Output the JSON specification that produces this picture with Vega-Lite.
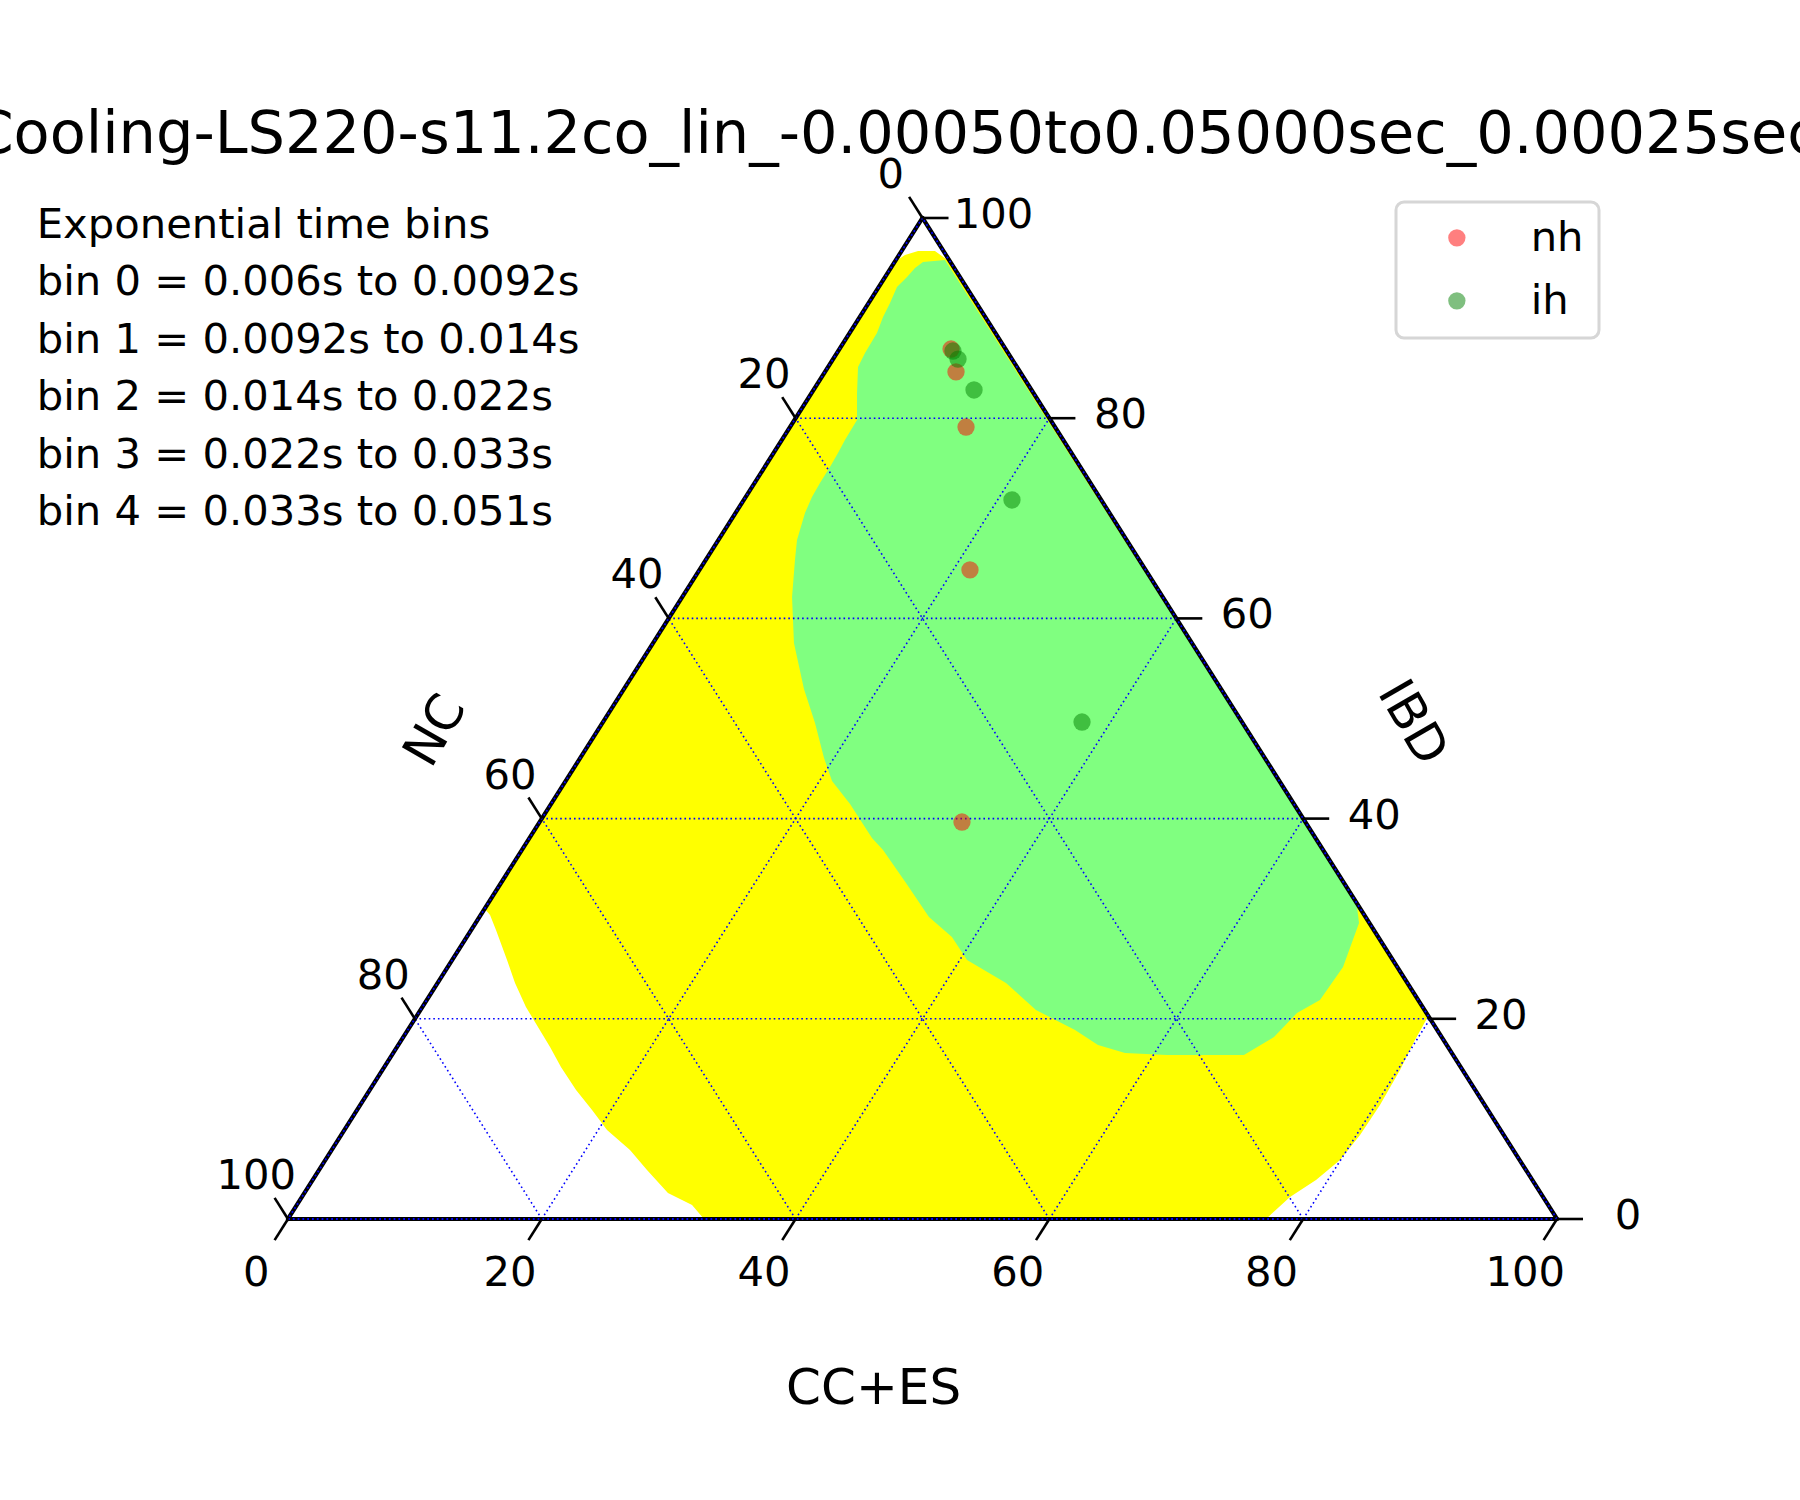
{
  "$schema": "https://vega.github.io/schema/vega-lite/v6.json",
  "width": 1800,
  "height": 1500,
  "autosize": "none",
  "padding": 0,
  "background": "white",
  "title": {"text": "Cooling-LS220-s11.2co_lin_-0.00050to0.05000sec_0.00025sec", "font": "DejaVu Sans", "fontSize": 59, "fontWeight": "normal", "color": "#000000", "anchor": "middle", "frame": "group", "baseline": "alphabetic", "offset": -212, "dx": -4},
  "config": {
    "view": {"stroke": null},
    "text": {"font": "DejaVu Sans", "color": "#000000"},
    "legend": {"strokeWidth": 3}
  },
  "datasets": {
    "yellow": [
      {"i": 0, "x": 47.8, "y": 95.6}, {"i": 1, "x": 48.62, "y": 96.3}, {"i": 2, "x": 49.65, "y": 96.7}, {"i": 3, "x": 50.98, "y": 96.7},
      {"i": 4, "x": 52.2, "y": 95.6}, {"i": 5, "x": 89.86, "y": 20.28}, {"i": 6, "x": 88.81, "y": 17.88}, {"i": 7, "x": 87.63, "y": 14.89},
      {"i": 8, "x": 86.05, "y": 11.39}, {"i": 9, "x": 84.48, "y": 8.39}, {"i": 10, "x": 82.9, "y": 5.89}, {"i": 11, "x": 81.01, "y": 3.9},
      {"i": 12, "x": 78.96, "y": 2.2}, {"i": 13, "x": 77.07, "y": 0}, {"i": 14, "x": 32.78, "y": 0}, {"i": 15, "x": 31.84, "y": 1.4},
      {"i": 16, "x": 29.94, "y": 2.6}, {"i": 17, "x": 28.29, "y": 4.9}, {"i": 18, "x": 26.95, "y": 6.89}, {"i": 19, "x": 25.14, "y": 8.89},
      {"i": 20, "x": 23.96, "y": 10.89}, {"i": 21, "x": 22.7, "y": 12.89}, {"i": 22, "x": 21.51, "y": 15.18}, {"i": 23, "x": 20.65, "y": 17.18},
      {"i": 24, "x": 19.7, "y": 19.18}, {"i": 25, "x": 18.75, "y": 21.18}, {"i": 26, "x": 17.89, "y": 23.58}, {"i": 27, "x": 17.26, "y": 25.87},
      {"i": 28, "x": 16.39, "y": 28.87}, {"i": 29, "x": 15.92, "y": 30.37}, {"i": 30, "x": 15.5, "y": 31.0}
    ],
    "green": [
      {"i": 0, "x": 49.41, "y": 95.0}, {"i": 1, "x": 50.04, "y": 95.6}, {"i": 2, "x": 51.77, "y": 95.8}, {"i": 3, "x": 84.2, "y": 31.6},
      {"i": 4, "x": 84.4, "y": 29.57}, {"i": 5, "x": 83.14, "y": 25.17}, {"i": 6, "x": 81.32, "y": 21.88}, {"i": 7, "x": 79.51, "y": 20.58},
      {"i": 8, "x": 77.7, "y": 18.18}, {"i": 9, "x": 75.33, "y": 16.38}, {"i": 10, "x": 69.27, "y": 16.38}, {"i": 11, "x": 65.96, "y": 16.58},
      {"i": 12, "x": 63.83, "y": 17.38}, {"i": 13, "x": 62.02, "y": 18.88}, {"i": 14, "x": 58.94, "y": 20.88}, {"i": 15, "x": 56.58, "y": 23.58},
      {"i": 16, "x": 53.51, "y": 25.87}, {"i": 17, "x": 52.32, "y": 28.17}, {"i": 18, "x": 50.51, "y": 30.17}, {"i": 19, "x": 48.7, "y": 33.57},
      {"i": 20, "x": 46.89, "y": 36.86}, {"i": 21, "x": 46.02, "y": 38.06}, {"i": 22, "x": 44.29, "y": 41.46}, {"i": 23, "x": 42.87, "y": 43.76},
      {"i": 24, "x": 42.24, "y": 46.05}, {"i": 25, "x": 41.53, "y": 49.55}, {"i": 26, "x": 40.66, "y": 52.95}, {"i": 27, "x": 39.87, "y": 57.54},
      {"i": 28, "x": 39.72, "y": 62.14}, {"i": 29, "x": 39.95, "y": 65.83}, {"i": 30, "x": 40.11, "y": 67.83}, {"i": 31, "x": 40.74, "y": 70.53},
      {"i": 32, "x": 41.29, "y": 72.13}, {"i": 33, "x": 41.92, "y": 73.53}, {"i": 34, "x": 42.71, "y": 75.12}, {"i": 35, "x": 43.34, "y": 76.52},
      {"i": 36, "x": 43.89, "y": 77.82}, {"i": 37, "x": 44.84, "y": 79.82}, {"i": 38, "x": 44.84, "y": 82.52}, {"i": 39, "x": 44.92, "y": 85.11},
      {"i": 40, "x": 45.47, "y": 86.51}, {"i": 41, "x": 46.41, "y": 88.51}, {"i": 42, "x": 46.89, "y": 90.11}, {"i": 43, "x": 47.44, "y": 91.51},
      {"i": 44, "x": 47.99, "y": 93.11}, {"i": 45, "x": 48.78, "y": 94.11}
    ],
    "grid": [
      {"x": 10, "y": 20, "x2": 90, "y2": 20}, {"x": 20, "y": 40, "x2": 80, "y2": 40}, {"x": 30, "y": 60, "x2": 70, "y2": 60}, {"x": 40, "y": 80, "x2": 60, "y2": 80},
      {"x": 20, "y": 0, "x2": 60, "y2": 80}, {"x": 40, "y": 0, "x2": 70, "y2": 60}, {"x": 60, "y": 0, "x2": 80, "y2": 40}, {"x": 80, "y": 0, "x2": 90, "y2": 20},
      {"x": 80, "y": 0, "x2": 40, "y2": 80}, {"x": 60, "y": 0, "x2": 30, "y2": 60}, {"x": 40, "y": 0, "x2": 20, "y2": 40}, {"x": 20, "y": 0, "x2": 10, "y2": 20}
    ],
    "edges": [
      {"x": 0, "y": 0, "x2": 100, "y2": 0}, {"x": 100, "y": 0, "x2": 50, "y2": 100}, {"x": 50, "y": 100, "x2": 0, "y2": 0}
    ],
    "ticks": [
      {"axis": "CC+ES", "t": "0", "x": 0, "y": 0, "x2": -1.055, "y2": -2.11},
      {"axis": "CC+ES", "t": "20", "x": 20, "y": 0, "x2": 18.945, "y2": -2.11},
      {"axis": "CC+ES", "t": "40", "x": 40, "y": 0, "x2": 38.945, "y2": -2.11},
      {"axis": "CC+ES", "t": "60", "x": 60, "y": 0, "x2": 58.945, "y2": -2.11},
      {"axis": "CC+ES", "t": "80", "x": 80, "y": 0, "x2": 78.945, "y2": -2.11},
      {"axis": "CC+ES", "t": "100", "x": 100, "y": 0, "x2": 98.945, "y2": -2.11},
      {"axis": "NC", "t": "0", "x": 50, "y": 100, "x2": 48.945, "y2": 102.11},
      {"axis": "NC", "t": "20", "x": 40, "y": 80, "x2": 38.945, "y2": 82.11},
      {"axis": "NC", "t": "40", "x": 30, "y": 60, "x2": 28.945, "y2": 62.11},
      {"axis": "NC", "t": "60", "x": 20, "y": 40, "x2": 18.945, "y2": 42.11},
      {"axis": "NC", "t": "80", "x": 10, "y": 20, "x2": 8.945, "y2": 22.11},
      {"axis": "NC", "t": "100", "x": 0, "y": 0, "x2": -1.055, "y2": 2.11},
      {"axis": "IBD", "t": "0", "x": 100, "y": 0, "x2": 102.05, "y2": 0},
      {"axis": "IBD", "t": "20", "x": 90, "y": 20, "x2": 92.05, "y2": 20},
      {"axis": "IBD", "t": "40", "x": 80, "y": 40, "x2": 82.05, "y2": 40},
      {"axis": "IBD", "t": "60", "x": 70, "y": 60, "x2": 72.05, "y2": 60},
      {"axis": "IBD", "t": "80", "x": 60, "y": 80, "x2": 62.05, "y2": 80},
      {"axis": "IBD", "t": "100", "x": 50, "y": 100, "x2": 52.05, "y2": 100}
    ],
    "axistitles": [
      {"t": "CC+ES", "x": 46.15, "y": -17.0},
      {"t": "NC", "x": 11.66, "y": 48.75},
      {"t": "IBD", "x": 88.57, "y": 49.55}
    ],
    "points": [
      {"series": "nh", "x": 52.25, "y": 86.91},
      {"series": "nh", "x": 52.64, "y": 84.62},
      {"series": "nh", "x": 53.43, "y": 79.12},
      {"series": "nh", "x": 53.74, "y": 64.84},
      {"series": "nh", "x": 53.11, "y": 39.66},
      {"series": "ih", "x": 52.4, "y": 86.71},
      {"series": "ih", "x": 52.8, "y": 85.91},
      {"series": "ih", "x": 54.06, "y": 82.82},
      {"series": "ih", "x": 57.05, "y": 71.83},
      {"series": "ih", "x": 62.57, "y": 49.65}
    ],
    "notes": [
      {"t": "Exponential time bins", "x": -19.8, "y": 98.0},
      {"t": "bin 0 = 0.006s to 0.0092s", "x": -19.8, "y": 92.27},
      {"t": "bin 1 = 0.0092s to 0.014s", "x": -19.8, "y": 86.53},
      {"t": "bin 2 = 0.014s to 0.022s", "x": -19.8, "y": 80.8},
      {"t": "bin 3 = 0.022s to 0.033s", "x": -19.8, "y": 75.06},
      {"t": "bin 4 = 0.033s to 0.051s", "x": -19.8, "y": 69.33}
    ]
  },
  "encoding": {
    "x": {"field": "x", "type": "quantitative", "scale": {"domain": [-22.695, 119.149], "nice": false, "zero": false}, "axis": null},
    "y": {"field": "y", "type": "quantitative", "scale": {"domain": [-28.072, 121.778], "nice": false, "zero": false}, "axis": null}
  },
  "layer": [
    {
      "data": {"name": "yellow"},
      "mark": {"type": "line", "fill": "#ffff00", "stroke": null, "strokeWidth": 0, "interpolate": "linear-closed"},
      "encoding": {"order": {"field": "i", "type": "quantitative"}}
    },
    {
      "data": {"name": "green"},
      "mark": {"type": "line", "fill": "#80ff80", "stroke": null, "strokeWidth": 0, "interpolate": "linear-closed"},
      "encoding": {"order": {"field": "i", "type": "quantitative"}}
    },
    {
      "data": {"name": "grid"},
      "mark": {"type": "rule", "color": "#0000ff", "strokeWidth": 1.6, "strokeDash": [1.6, 3]},
      "encoding": {"x2": {"field": "x2"}, "y2": {"field": "y2"}}
    },
    {
      "data": {"name": "edges"},
      "mark": {"type": "rule", "color": "#000000", "strokeWidth": 4.2, "strokeCap": "round"},
      "encoding": {"x2": {"field": "x2"}, "y2": {"field": "y2"}}
    },
    {
      "data": {"name": "edges"},
      "mark": {"type": "rule", "color": "#0000ff", "strokeWidth": 1.8, "strokeDash": [1.8, 3]},
      "encoding": {"x2": {"field": "x2"}, "y2": {"field": "y2"}}
    },
    {
      "data": {"name": "ticks"},
      "mark": {"type": "rule", "color": "#000000", "strokeWidth": 2.6},
      "encoding": {"x2": {"field": "x2"}, "y2": {"field": "y2"}}
    },
    {
      "data": {"name": "ticks"},
      "transform": [{"filter": "datum.axis === 'CC+ES'"}],
      "mark": {"type": "text", "fontSize": 41.7, "align": "center", "baseline": "middle", "dx": -31.7, "dy": 54},
      "encoding": {"text": {"field": "t"}}
    },
    {
      "data": {"name": "ticks"},
      "transform": [{"filter": "datum.axis === 'NC'"}],
      "mark": {"type": "text", "fontSize": 41.7, "align": "center", "baseline": "middle", "dx": -31.7, "dy": -43},
      "encoding": {"text": {"field": "t"}}
    },
    {
      "data": {"name": "ticks"},
      "transform": [{"filter": "datum.axis === 'IBD'"}],
      "mark": {"type": "text", "fontSize": 41.7, "align": "center", "baseline": "middle", "dx": 71, "dy": -3},
      "encoding": {"text": {"field": "t"}}
    },
    {
      "data": {"name": "axistitles"},
      "transform": [{"filter": "datum.t === 'CC+ES'"}],
      "mark": {"type": "text", "fontSize": 50, "align": "center", "baseline": "middle"},
      "encoding": {"text": {"field": "t"}}
    },
    {
      "data": {"name": "axistitles"},
      "transform": [{"filter": "datum.t === 'NC'"}],
      "mark": {"type": "text", "fontSize": 50, "align": "center", "baseline": "middle", "angle": -60},
      "encoding": {"text": {"field": "t"}}
    },
    {
      "data": {"name": "axistitles"},
      "transform": [{"filter": "datum.t === 'IBD'"}],
      "mark": {"type": "text", "fontSize": 50, "align": "center", "baseline": "middle", "angle": 60},
      "encoding": {"text": {"field": "t"}}
    },
    {
      "data": {"name": "points"},
      "mark": {"type": "circle", "size": 300, "opacity": 0.5},
      "encoding": {
        "color": {
          "field": "series", "type": "nominal",
          "scale": {"domain": ["nh", "ih"], "range": ["#ff0000", "#008000"]},
          "legend": {"title": null, "orient": "none", "legendX": 1396, "legendY": 202, "padding": 15, "symbolOffset": 25, "labelOffset": 53, "labelFontSize": 41.7, "labelFont": "DejaVu Sans", "labelColor": "#000000", "symbolSize": 300, "symbolType": "circle", "symbolOpacity": 0.5, "symbolStrokeWidth": 0, "strokeColor": "#d6d6d6", "cornerRadius": 8, "fillColor": "#ffffff", "rowPadding": 20}
        }
      }
    },
    {
      "data": {"name": "notes"},
      "mark": {"type": "text", "fontSize": 41.7, "align": "left", "baseline": "alphabetic"},
      "encoding": {"text": {"field": "t"}}
    }
  ]
}
